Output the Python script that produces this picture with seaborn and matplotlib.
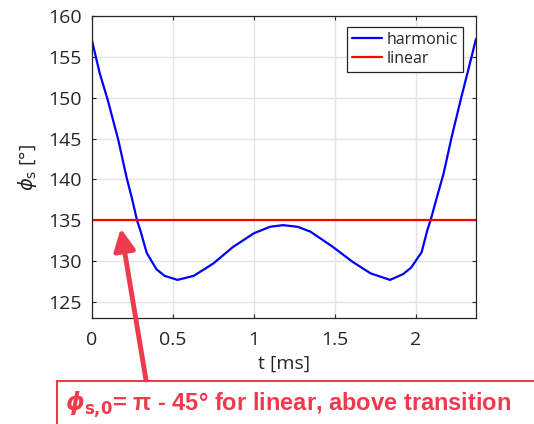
import matplotlib
matplotlib.use("Agg")
import matplotlib.pyplot as plt
import matplotlib.patches as mpatches
import seaborn as sns

# synchronous phase vs time
t_ms = [0.0, 0.05, 0.10, 0.165, 0.215, 0.25, 0.28, 0.30, 0.34, 0.40, 0.45, 0.53,
        0.63, 0.75, 0.87, 1.0, 1.10, 1.18, 1.27, 1.35, 1.49, 1.61, 1.72, 1.84,
        1.92, 1.97, 2.035, 2.07, 2.09, 2.13, 2.17, 2.22, 2.28, 2.33, 2.37]
phi_harmonic = [157.2, 153.0, 149.7, 144.8, 140.3, 137.6, 135.0, 133.8, 131.0, 129.0,
                128.2, 127.7, 128.2, 129.7, 131.7, 133.4, 134.2, 134.4, 134.2, 133.6,
                131.7, 129.9, 128.5, 127.7, 128.4, 129.2, 131.1, 133.8, 135.0, 137.9,
                140.7, 145.2, 150.1, 154.0, 157.2]
phi_linear = 135.0

x_ticks = [0, 0.5, 1, 1.5, 2]
x_tick_labels = ["0", "0.5", "1", "1.5", "2"]
y_ticks = [125, 130, 135, 140, 145, 150, 155, 160]

note_text = r"$\boldsymbol{\phi}_{\mathbf{s{,}0}}$= π - 45° for linear, above transition"

sns.set_theme(style="ticks")
plt.rcParams["font.family"] = ["Open Sans", "DejaVu Sans"]
dark = "#262626"
note_red = "#ee3a4c"

fig = plt.figure(figsize=(5.34, 4.24), dpi=100)
ax = fig.add_axes([0.1715, 0.2493, 0.7199, 0.713])

sns.lineplot(x=t_ms, y=phi_harmonic, ax=ax, color="#0000ff", lw=1.6,
             label="harmonic")
ax.axhline(phi_linear, color="#ff0000", lw=1.6, label="linear")

ax.set_xlim(0, 2.37)
ax.set_ylim(123, 160)
ax.set_xticks(x_ticks, x_tick_labels)
ax.set_yticks(y_ticks)
ax.grid(True, color="#e3e3e3", lw=1)
ax.set_axisbelow(True)
for s in ax.spines.values():
    s.set_color(dark)
    s.set_linewidth(0.9)
ax.tick_params(direction="in", length=3, width=0.8, colors=dark,
               labelsize=14, top=True, right=True, pad=7)
ax.tick_params(axis="x", pad=9)

ax.set_xlabel("t [ms]", fontsize=14, color=dark, labelpad=4)
ax.set_ylabel(r"$\phi_\mathrm{s}$ [°]", fontsize=14, color=dark, labelpad=7)

leg = ax.legend(loc="upper right", bbox_to_anchor=(0.966, 0.964), fontsize=11.5,
                frameon=True, fancybox=False, framealpha=1, edgecolor=dark,
                handlelength=1.9, handletextpad=0.3, labelspacing=0.2,
                borderpad=0.3, borderaxespad=0)
leg.get_frame().set_linewidth(0.9)

# red note box at the bottom and arrow pointing at the linear line
fig.patches.append(mpatches.Rectangle((57 / 534, -0.05), 1.0, 0.05 + (424 - 381) / 424,
                                      transform=fig.transFigure, fill=False,
                                      edgecolor=note_red, lw=1.5))
fig.text(65 / 534, 1 - 405 / 424, note_text, color=note_red, fontsize=17,
         fontweight="bold", family=["Liberation Sans", "DejaVu Sans"], va="center")
ax.annotate("", xy=(0.18, 134.0), xycoords="data",
            xytext=(146 / 534, 1 - 380 / 424), textcoords="figure fraction",
            arrowprops=dict(arrowstyle="-|>,head_length=0.65,head_width=0.32",
                            mutation_scale=20, color=note_red, lw=3.5,
                            shrinkA=0, shrinkB=0),
            annotation_clip=False)

fig.savefig("out.png", dpi=100)
